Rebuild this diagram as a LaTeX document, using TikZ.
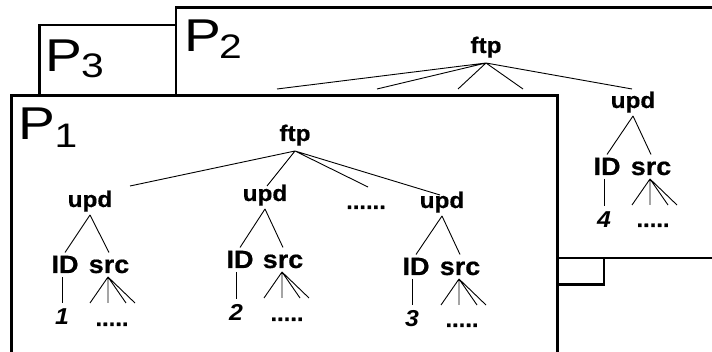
\documentclass[tikz,border=0pt]{standalone}
\usepackage{fontspec}
\setmainfont{Liberation Sans}
\newfontfamily\widefont[FakeStretch=1.2]{Liberation Sans}
\newfontfamily\treefont[FakeStretch=1.08,BoldFeatures={FakeBold=0.6}]{Liberation Sans}
\begin{document}
\begin{tikzpicture}[x=1pt,y=-1pt,
  frame/.style={draw=black, fill=white, line width=2.6pt},
  plab/.style={inner sep=0pt, anchor=base, font=\widefont\fontsize{46}{46}\selectfont},
  psub/.style={inner sep=0pt, anchor=base, font=\widefont\fontsize{34}{34}\selectfont},
  toplab/.style={inner sep=0pt, anchor=base, font=\treefont\bfseries\fontsize{22.5}{22.5}\selectfont, text height=15pt, text depth=4pt},
  ftpn/.style={toplab, outer ysep=6pt},
  updn/.style={toplab, outer ysep=4pt},
  leaf/.style={inner sep=0pt, anchor=base, font=\treefont\bfseries\fontsize{25}{25}\selectfont, text height=16.5pt, text depth=0pt, outer ysep=4pt},
  num/.style={inner sep=0pt, anchor=base, font=\treefont\bfseries\itshape\fontsize{23}{23}\selectfont, text height=15pt, text depth=0pt, outer ysep=7pt},
  dotsn/.style={inner sep=0pt, anchor=base, font=\treefont\bfseries\fontsize{22}{22}\selectfont},
  edge/.style={line width=0.9pt}
]
\useasboundingbox (0,0) rectangle (712,352);
\clip (0,0) rectangle (712,352);

% P3 frame (back)
\draw[frame] (39.5,25) rectangle (604,284.5);
\node[plab] (p3) at (64,72) {P};
\node[psub] (p3s) at (92.5,78) {3};

% P2 frame
\draw[frame] (176,7.5) rectangle (740,258);
\node[plab] (p2) at (203,52) {P};
\node[psub] (p2s) at (230.5,59) {2};

% P2 tree
\node[ftpn] (ftpB) at (486,53) {ftp};
\draw[edge] (ftpB.south) -- ++(-209,26)
            (ftpB.south) -- ++(-109,26)
            (ftpB.south) -- ++(-28,26)
            (ftpB.south) -- ++(37,26)
            (ftpB.south) -- ++(146,26);
\node[updn] (upd4) at (633,108) {upd};
\node[leaf] (id4) at (607,175) {ID};
\node[leaf] (src4) at (651,175) {src};
\node[num] (n4) at (604,228) {4};
\node[dotsn] (d4) at (653,227) {.....};
\draw[edge] (upd4.south) -- (id4.north);
\draw[edge] (upd4.south) -- (src4.north);
\draw[edge] (id4.south -| n4.north) -- (n4.north);

% P1 frame (front)
\draw[frame] (11.3,95.3) rectangle (557.7,380);
\node[plab] (p1) at (37,140) {P};
\node[psub] (p1s) at (66,148) {1};

% P1 tree
\node[ftpn] (ftpA) at (295,141) {ftp};
\draw[edge] (ftpA.south) -- ++(-165,35)
            (ftpA.south) -- ++(-28,35)
            (ftpA.south) -- ++(73,36)
            (ftpA.south) -- ++(145,44);

\node[updn] (upd1) at (90,207) {upd};
\node[updn] (upd2) at (265,201) {upd};
\node[dotsn] (d0) at (366,209) {......};
\node[updn] (upd3) at (442,208) {upd};

\node[leaf] (id1) at (65,273) {ID};
\node[leaf] (src1) at (109,273) {src};
\node[leaf] (id2) at (240,268) {ID};
\node[leaf] (src2) at (283,268) {src};
\node[leaf] (id3) at (416,275) {ID};
\node[leaf] (src3) at (460,275) {src};

\node[num] (n1) at (62,325) {1};
\node[dotsn] (d1) at (112,326) {.....};
\node[num] (n2) at (236,321) {2};
\node[dotsn] (d2) at (287,321) {.....};
\node[num] (n3) at (412,327) {3};
\node[dotsn] (d3) at (462,327) {.....};

\foreach \u/\i/\s/\n in {upd1/id1/src1/n1, upd2/id2/src2/n2, upd3/id3/src3/n3}{
  \draw[edge] (\u.south) -- (\i.north);
  \draw[edge] (\u.south) -- (\s.north);
  \draw[edge] (\i.south -| \n.north) -- (\n.north);
}

\foreach \s in {src1,src2,src3,src4}{
  \draw[edge] ([xshift=-1pt]\s.south) -- ++(-18,26)
              ([xshift=-1pt]\s.south) -- ++(0,26)
              ([xshift=-1pt]\s.south) -- ++(18,26)
              ([xshift=-1pt]\s.south) -- ++(27,26);
}
\end{tikzpicture}
\end{document}
